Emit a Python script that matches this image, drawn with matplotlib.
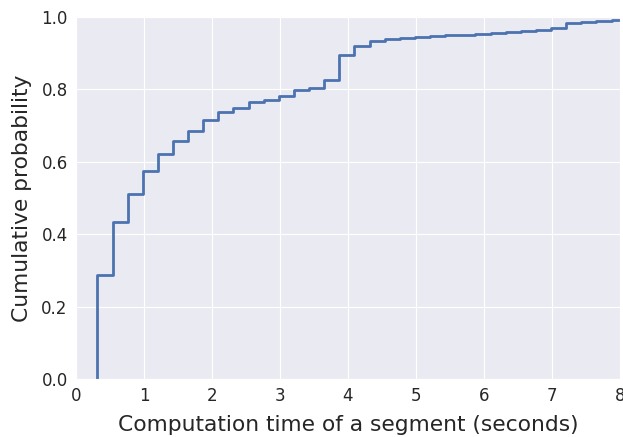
import matplotlib
matplotlib.use("Agg")
import matplotlib.pyplot as plt
import seaborn as sns

# step positions (seconds) and cumulative probability after each step
step_times = [0.315, 0.54, 0.76, 0.98, 1.205, 1.425, 1.65, 1.87, 2.09, 2.315,
              2.54, 2.76, 2.985, 3.21, 3.43, 3.655, 3.875, 4.095, 4.32, 4.54,
              4.765, 4.985, 5.21, 5.43, 5.655, 5.875, 6.1, 6.32, 6.545, 6.765,
              6.99, 7.21, 7.435, 7.655, 7.88]
cum_prob = [0.288, 0.433, 0.512, 0.574, 0.621, 0.658, 0.685, 0.715, 0.737, 0.748,
            0.764, 0.772, 0.782, 0.798, 0.804, 0.826, 0.896, 0.920, 0.934, 0.940,
            0.942, 0.944, 0.947, 0.949, 0.950, 0.953, 0.957, 0.959, 0.962, 0.964,
            0.971, 0.984, 0.985, 0.988, 0.991]
x_max = 8.0

sns.set_style("darkgrid")
plt.rcParams['font.family'] = ['DejaVu Sans']

fig = plt.figure(figsize=(6.23, 4.37), dpi=100)
ax = fig.add_axes([0.122, 0.133, 0.873, 0.828])

xs = [step_times[0]] + step_times + [x_max]
ys = [0.0] + cum_prob + [cum_prob[-1]]
ax.step(xs, ys, where='post', color='#4C72B0', linewidth=2)

ax.set_xlim(0, 8)
ax.set_ylim(0, 1.0)
ax.set_xticks(range(0, 9))
ax.set_yticks([0.0, 0.2, 0.4, 0.6, 0.8, 1.0])
ax.tick_params(axis='both', labelsize=12, length=2, width=1, color='#888888', pad=4)
ax.set_xlabel('Computation time of a segment (seconds)', fontsize=15.7, labelpad=7)
ax.set_ylabel('Cumulative probability', fontsize=15.7, labelpad=7)

fig.savefig('out.png', dpi=100)
